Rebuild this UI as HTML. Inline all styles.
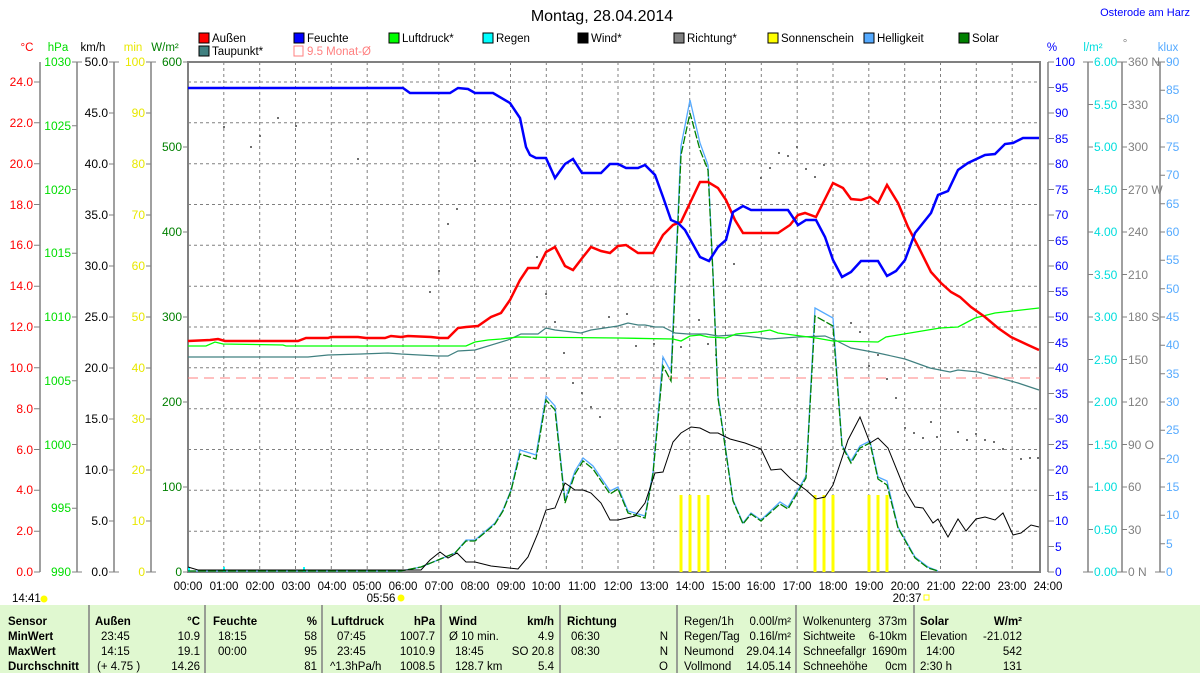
<!DOCTYPE html>
<html><head><meta charset="utf-8"><style>
html,body{margin:0;padding:0;background:#fff;}
svg{display:block;font-family:"Liberation Sans",Arial,sans-serif;}
</style></head><body>
<svg width="1200" height="673" viewBox="0 0 1200 673" xmlns="http://www.w3.org/2000/svg">
<rect width="1200" height="673" fill="#fff"/>
<text x="602" y="21" font-size="16" text-anchor="middle" fill="#000">Montag, 28.04.2014</text>
<text x="1190" y="16" font-size="11" text-anchor="end" fill="#0000ff">Osterode am Harz</text>

<!-- legend -->
<g font-size="11.5">
<rect x="199" y="33" width="10" height="10" fill="#ff0000" stroke="#000"/><text x="212" y="42">Außen</text>
<rect x="294" y="33" width="10" height="10" fill="#0000ff" stroke="#000"/><text x="307" y="42">Feuchte</text>
<rect x="389" y="33" width="10" height="10" fill="#00ff00" stroke="#000"/><text x="402" y="42">Luftdruck*</text>
<rect x="483" y="33" width="10" height="10" fill="#00ffff" stroke="#000"/><text x="496" y="42">Regen</text>
<rect x="578" y="33" width="10" height="10" fill="#000" stroke="#000"/><text x="591" y="42">Wind*</text>
<rect x="674" y="33" width="10" height="10" fill="#808080" stroke="#000"/><text x="687" y="42">Richtung*</text>
<rect x="768" y="33" width="10" height="10" fill="#ffff00" stroke="#000"/><text x="781" y="42">Sonnenschein</text>
<rect x="864" y="33" width="10" height="10" fill="#55aaff" stroke="#000"/><text x="877" y="42">Helligkeit</text>
<rect x="959" y="33" width="10" height="10" fill="#008000" stroke="#000"/><text x="972" y="42">Solar</text>
<rect x="199" y="46" width="10" height="10" fill="#408080" stroke="#000"/><text x="212" y="55">Taupunkt*</text>
<rect x="294" y="46" width="9" height="10" fill="none" stroke="#ff8080"/><text x="307" y="55" fill="#ff8080">9.5 Monat-Ø</text>
</g>

<!-- units -->
<g font-size="11.5">
<text x="27" y="51" text-anchor="middle" fill="#ff0000">°C</text>
<text x="58" y="51" text-anchor="middle" fill="#00dd00">hPa</text>
<text x="93" y="51" text-anchor="middle" fill="#000">km/h</text>
<text x="133" y="51" text-anchor="middle" fill="#e8e800">min</text>
<text x="165" y="51" text-anchor="middle" fill="#008000">W/m²</text>
<text x="1052" y="51" text-anchor="middle" fill="#0000ff">%</text>
<text x="1093" y="51" text-anchor="middle" fill="#00dddd">l/m²</text>
<text x="1125" y="47" text-anchor="middle" fill="#808080">°</text>
<text x="1168" y="51" text-anchor="middle" fill="#55aaff">klux</text>
</g>

<!-- grid -->
<g stroke="#808080" stroke-dasharray="3,3" stroke-width="1">
<line x1="188" y1="82" x2="1040" y2="82"/><line x1="188" y1="122.8" x2="1040" y2="122.8"/><line x1="188" y1="163.7" x2="1040" y2="163.7"/><line x1="188" y1="204.5" x2="1040" y2="204.5"/><line x1="188" y1="245.3" x2="1040" y2="245.3"/><line x1="188" y1="286.2" x2="1040" y2="286.2"/><line x1="188" y1="327" x2="1040" y2="327"/><line x1="188" y1="367.8" x2="1040" y2="367.8"/><line x1="188" y1="408.7" x2="1040" y2="408.7"/><line x1="188" y1="449.5" x2="1040" y2="449.5"/><line x1="188" y1="490.3" x2="1040" y2="490.3"/><line x1="188" y1="531.2" x2="1040" y2="531.2"/>
<line x1="223.8" y1="62" x2="223.8" y2="572"/><line x1="259.7" y1="62" x2="259.7" y2="572"/><line x1="295.5" y1="62" x2="295.5" y2="572"/><line x1="331.3" y1="62" x2="331.3" y2="572"/><line x1="367.2" y1="62" x2="367.2" y2="572"/><line x1="403" y1="62" x2="403" y2="572"/><line x1="438.8" y1="62" x2="438.8" y2="572"/><line x1="474.7" y1="62" x2="474.7" y2="572"/><line x1="510.5" y1="62" x2="510.5" y2="572"/><line x1="546.3" y1="62" x2="546.3" y2="572"/><line x1="582.2" y1="62" x2="582.2" y2="572"/><line x1="618" y1="62" x2="618" y2="572"/><line x1="653.8" y1="62" x2="653.8" y2="572"/><line x1="689.7" y1="62" x2="689.7" y2="572"/><line x1="725.5" y1="62" x2="725.5" y2="572"/><line x1="761.3" y1="62" x2="761.3" y2="572"/><line x1="797.2" y1="62" x2="797.2" y2="572"/><line x1="833" y1="62" x2="833" y2="572"/><line x1="868.8" y1="62" x2="868.8" y2="572"/><line x1="904.7" y1="62" x2="904.7" y2="572"/><line x1="940.5" y1="62" x2="940.5" y2="572"/><line x1="976.3" y1="62" x2="976.3" y2="572"/><line x1="1012.2" y1="62" x2="1012.2" y2="572"/>
</g>

<!-- frame -->
<rect x="188" y="62" width="852" height="510" fill="none" stroke="#808080" stroke-width="2"/>

<!-- 9.5 Monat avg -->
<line x1="188" y1="378" x2="1040" y2="378" stroke="#ff8080" stroke-dasharray="10,6"/>

<!-- yellow sunshine -->
<g stroke="#ffff00" stroke-width="3">
<line x1="681" y1="495" x2="681" y2="572"/><line x1="690" y1="495" x2="690" y2="572"/><line x1="699" y1="495" x2="699" y2="572"/><line x1="708" y1="495" x2="708" y2="572"/>
<line x1="815" y1="495" x2="815" y2="572"/><line x1="824" y1="495" x2="824" y2="572"/><line x1="833" y1="495" x2="833" y2="572"/>
<line x1="869" y1="495" x2="869" y2="572"/><line x1="878" y1="495" x2="878" y2="572"/><line x1="887" y1="495" x2="887" y2="572"/>
</g>

<!-- direction dots -->
<g fill="#707070">
<rect x="223" y="126" width="2" height="2"/><rect x="250" y="146" width="2" height="2"/><rect x="259" y="135" width="2" height="2"/><rect x="277" y="117" width="2" height="2"/><rect x="295" y="125" width="2" height="2"/><rect x="357" y="158" width="2" height="2"/><rect x="474" y="160" width="2" height="2"/><rect x="456" y="208" width="2" height="2"/><rect x="447" y="223" width="2" height="2"/><rect x="438" y="270" width="2" height="2"/><rect x="429" y="291" width="2" height="2"/><rect x="545" y="293" width="2" height="2"/><rect x="536" y="256" width="2" height="2"/><rect x="554" y="321" width="2" height="2"/><rect x="563" y="352" width="2" height="2"/><rect x="572" y="382" width="2" height="2"/><rect x="581" y="392" width="2" height="2"/><rect x="590" y="406" width="2" height="2"/><rect x="599" y="416" width="2" height="2"/><rect x="608" y="316" width="2" height="2"/>
<rect x="626" y="313" width="2" height="2"/><rect x="635" y="345" width="2" height="2"/><rect x="653" y="343" width="2" height="2"/><rect x="662" y="358" width="2" height="2"/><rect x="671" y="353" width="2" height="2"/><rect x="680" y="346" width="2" height="2"/><rect x="698" y="319" width="2" height="2"/><rect x="707" y="343" width="2" height="2"/><rect x="715" y="354" width="2" height="2"/><rect x="733" y="263" width="2" height="2"/><rect x="760" y="177" width="2" height="2"/><rect x="769" y="167" width="2" height="2"/><rect x="778" y="152" width="2" height="2"/><rect x="787" y="155" width="2" height="2"/><rect x="796" y="146" width="2" height="2"/><rect x="805" y="168" width="2" height="2"/><rect x="814" y="176" width="2" height="2"/><rect x="823" y="164" width="2" height="2"/><rect x="850" y="322" width="2" height="2"/><rect x="859" y="331" width="2" height="2"/><rect x="868" y="365" width="2" height="2"/><rect x="877" y="354" width="2" height="2"/><rect x="886" y="378" width="2" height="2"/><rect x="895" y="397" width="2" height="2"/><rect x="904" y="427" width="2" height="2"/><rect x="913" y="432" width="2" height="2"/><rect x="922" y="437" width="2" height="2"/><rect x="930" y="421" width="2" height="2"/><rect x="936" y="436" width="2" height="2"/><rect x="957" y="431" width="2" height="2"/><rect x="966" y="439" width="2" height="2"/><rect x="975" y="433" width="2" height="2"/><rect x="984" y="439" width="2" height="2"/><rect x="993" y="441" width="2" height="2"/><rect x="1002" y="448" width="2" height="2"/><rect x="1020" y="458" width="2" height="2"/><rect x="1029" y="457" width="2" height="2"/><rect x="1037" y="457" width="2" height="2"/>
</g>

<!-- rain ticks -->
<g stroke="#00ffff" stroke-width="2"><line x1="189" y1="567" x2="189" y2="572"/><line x1="224" y1="567" x2="224" y2="572"/><line x1="304" y1="567" x2="304" y2="572"/></g>

<!-- brightness -->
<polyline fill="none" stroke="#55aaff" stroke-width="1.3" points="188,571 401,571 421,567 438,560 455,553 466,540 475,540 495,523 503,510 511,490 520,450 536,455 546,396 555,406 565,500 575,471 583,458 593,466 610,491 618,487 628,511 645,516 653,472 663,357 671,372 681,146 690,100 700,143 708,165 713,273 718,396 733,500 743,523 751,513 761,520 780,502 788,507 806,476 815,308 833,318 842,445 851,461 860,446 870,441 878,477 887,481 898,527 915,557 928,567 938,571"/>
<!-- solar -->
<polyline fill="none" stroke="#008000" stroke-width="1.3" stroke-dasharray="8,2" points="188,571 401,571 421,567 438,560 455,553 466,541 475,541 495,524 503,511 511,491 520,454 536,459 546,400 555,410 565,503 575,474 583,461 593,469 610,494 618,489 628,513 645,518 653,474 663,366 671,381 681,155 690,113 700,150 708,170 713,275 718,398 733,501 743,524 751,514 761,521 780,504 788,509 806,478 815,316 833,326 842,446 851,463 860,448 870,443 878,479 887,485 898,528 915,558 928,568 938,571"/>
<!-- wind -->
<polyline fill="none" stroke="#000" stroke-width="1" points="188,567 198,570 281,570 421,570 430,560 440,552 448,558 457,553 466,562 475,562 491,566 518,569 528,557 538,533 546,510 555,508 565,483 575,490 583,490 591,493 601,503 610,520 618,520 635,516 645,503 655,473 663,472 673,442 681,433 691,427 700,428 710,433 718,433 730,439 745,443 761,449 771,470 781,469 791,479 806,490 816,499 825,497 833,485 848,440 860,417 870,443 878,438 888,448 905,490 915,507 923,508 933,523 938,519 948,537 958,519 966,531 976,519 985,517 995,520 1003,513 1013,535 1021,533 1031,525 1039,527"/>
<!-- dewpoint -->
<polyline fill="none" stroke="#408080" stroke-width="1.2" points="188,357 308,357 328,355 361,354 388,353 401,354 438,356 448,356 458,351 475,350 508,340 521,334 538,334 546,328 555,330 581,333 591,330 618,326 628,323 638,325 645,325 655,327 663,327 675,333 688,334 706,334 718,336 733,335 745,336 770,339 798,337 825,336 835,340 851,348 878,353 905,359 930,368 950,372 958,370 978,372 1000,378 1018,383 1039,390"/>
<!-- pressure -->
<polyline fill="none" stroke="#00ff00" stroke-width="1.3" points="188,346 206,346 215,342 223,344 283,345 286,346 466,346 475,342 488,340 501,339 518,337 618,338 673,339 681,341 690,336 700,335 708,337 726,338 736,334 758,332 770,330 778,333 816,338 833,341 878,342 886,337 940,328 958,327 975,318 995,313 1039,308"/>
<!-- temperature -->
<polyline fill="none" stroke="#ff0000" stroke-width="2.5" points="188,341 210,340 218,339 225,341 298,341 306,338 328,338 331,337 358,337 366,338 385,338 391,336 401,337 408,336 431,337 440,338 448,338 458,328 466,327 478,326 491,317 501,313 510,300 520,280 528,268 538,268 546,252 555,247 565,266 573,270 583,257 591,247 601,251 610,253 618,246 626,245 638,253 653,253 663,235 673,225 681,222 690,203 700,182 708,182 718,188 726,200 735,220 743,233 778,233 790,225 798,215 805,213 816,217 833,183 843,188 851,199 861,200 870,197 878,203 887,185 898,203 908,227 920,250 931,272 941,283 951,292 960,297 971,307 985,317 998,328 1011,337 1028,345 1039,350"/>
<!-- humidity -->
<polyline fill="none" stroke="#0000ff" stroke-width="2.5" points="188,88 403,88 410,93 450,93 458,88 468,89 475,93 493,93 510,103 520,118 526,147 530,155 536,158 546,158 555,178 565,164 573,159 582,173 601,173 610,164 618,164 626,168 638,168 645,165 655,175 663,197 671,220 678,223 685,230 700,257 709,261 718,247 726,240 733,212 743,206 751,210 788,210 798,225 806,220 816,220 825,237 833,260 842,277 851,272 861,261 878,261 887,276 896,271 905,260 915,233 931,213 938,195 948,191 958,170 968,163 985,155 995,154 1005,144 1013,143 1023,138 1039,138"/>

<!-- axes -->
<g stroke="#808080" stroke-width="1.5">
<line x1="40" y1="62" x2="40" y2="572"/><line x1="77" y1="62" x2="77" y2="572"/><line x1="114" y1="62" x2="114" y2="572"/><line x1="151" y1="62" x2="151" y2="572"/>
<line x1="1048" y1="62" x2="1048" y2="572"/><line x1="1088" y1="62" x2="1088" y2="572"/><line x1="1122" y1="62" x2="1122" y2="572"/><line x1="1160" y1="62" x2="1160" y2="572"/>
</g>
<g stroke="#808080" stroke-width="1">
<path d="M34 572h6M34 531.2h6M34 490.3h6M34 449.5h6M34 408.7h6M34 367.8h6M34 327h6M34 286.2h6M34 245.3h6M34 204.5h6M34 163.7h6M34 122.8h6M34 82h6"/>
<path d="M72 572h10M72 508.25h5M72 444.5h5M72 380.75h5M72 317h5M72 253.25h5M72 189.5h5M72 125.75h5M72 62h10"/>
<path d="M109 572h10M109 521h5M109 470h5M109 419h5M109 368h5M109 317h5M109 266h5M109 215h5M109 164h5M109 113h5M109 62h10"/>
<path d="M146 572h10M146 521h5M146 470h5M146 419h5M146 368h5M146 317h5M146 266h5M146 215h5M146 164h5M146 113h5M146 62h10"/>
<path d="M183 572h5M183 487h5M183 402h5M183 317h5M183 232h5M183 147h5M183 62h5"/>
<path d="M1048 572h6M1048 546.5h6M1048 521h6M1048 495.5h6M1048 470h6M1048 444.5h6M1048 419h6M1048 393.5h6M1048 368h6M1048 342.5h6M1048 317h6M1048 291.5h6M1048 266h6M1048 240.5h6M1048 215h6M1048 189.5h6M1048 164h6M1048 138.5h6M1048 113h6M1048 87.5h6M1048 62h6"/>
<path d="M1083 572h10M1088 529.5h5M1088 487h5M1088 444.5h5M1088 402h5M1088 359.5h5M1088 317h5M1088 274.5h5M1088 232h5M1088 189.5h5M1088 147h5M1088 104.5h5M1083 62h10"/>
<path d="M1117 572h10M1122 529.5h5M1122 487h5M1122 444.5h5M1122 402h5M1122 359.5h5M1122 317h5M1122 274.5h5M1122 232h5M1122 189.5h5M1122 147h5M1122 104.5h5M1117 62h10"/>
<path d="M1155 572h10M1160 543.7h5M1160 515.3h5M1160 487h5M1160 458.7h5M1160 430.3h5M1160 402h5M1160 373.7h5M1160 345.3h5M1160 317h5M1160 288.7h5M1160 260.3h5M1160 232h5M1160 203.7h5M1160 175.3h5M1160 147h5M1160 118.7h5M1160 90.3h5M1155 62h10"/>
</g>

<g font-size="12" text-anchor="end">
<g fill="#ff0000"><text x="33" y="576">0.0</text><text x="33" y="535">2.0</text><text x="33" y="494">4.0</text><text x="33" y="454">6.0</text><text x="33" y="413">8.0</text><text x="33" y="372">10.0</text><text x="33" y="331">12.0</text><text x="33" y="290">14.0</text><text x="33" y="249">16.0</text><text x="33" y="209">18.0</text><text x="33" y="168">20.0</text><text x="33" y="127">22.0</text><text x="33" y="86">24.0</text></g>
<g fill="#00dd00"><text x="71" y="576">990</text><text x="71" y="512">995</text><text x="71" y="449">1000</text><text x="71" y="385">1005</text><text x="71" y="321">1010</text><text x="71" y="257">1015</text><text x="71" y="194">1020</text><text x="71" y="130">1025</text><text x="71" y="66">1030</text></g>
<g fill="#000"><text x="108" y="576">0.0</text><text x="108" y="525">5.0</text><text x="108" y="474">10.0</text><text x="108" y="423">15.0</text><text x="108" y="372">20.0</text><text x="108" y="321">25.0</text><text x="108" y="270">30.0</text><text x="108" y="219">35.0</text><text x="108" y="168">40.0</text><text x="108" y="117">45.0</text><text x="108" y="66">50.0</text></g>
<g fill="#e8e800"><text x="145" y="576">0</text><text x="145" y="525">10</text><text x="145" y="474">20</text><text x="145" y="423">30</text><text x="145" y="372">40</text><text x="145" y="321">50</text><text x="145" y="270">60</text><text x="145" y="219">70</text><text x="145" y="168">80</text><text x="145" y="117">90</text><text x="145" y="66">100</text></g>
<g fill="#008000"><text x="182" y="576">0</text><text x="182" y="491">100</text><text x="182" y="406">200</text><text x="182" y="321">300</text><text x="182" y="236">400</text><text x="182" y="151">500</text><text x="182" y="66">600</text></g>
</g>
<g font-size="12">
<g fill="#0000ff"><text x="1055" y="576">0</text><text x="1055" y="551">5</text><text x="1055" y="525">10</text><text x="1055" y="500">15</text><text x="1055" y="474">20</text><text x="1055" y="449">25</text><text x="1055" y="423">30</text><text x="1055" y="398">35</text><text x="1055" y="372">40</text><text x="1055" y="347">45</text><text x="1055" y="321">50</text><text x="1055" y="296">55</text><text x="1055" y="270">60</text><text x="1055" y="245">65</text><text x="1055" y="219">70</text><text x="1055" y="194">75</text><text x="1055" y="168">80</text><text x="1055" y="143">85</text><text x="1055" y="117">90</text><text x="1055" y="92">95</text><text x="1055" y="66">100</text></g>
<g fill="#00dddd"><text x="1094" y="576">0.00</text><text x="1094" y="534">0.50</text><text x="1094" y="491">1.00</text><text x="1094" y="449">1.50</text><text x="1094" y="406">2.00</text><text x="1094" y="364">2.50</text><text x="1094" y="321">3.00</text><text x="1094" y="279">3.50</text><text x="1094" y="236">4.00</text><text x="1094" y="194">4.50</text><text x="1094" y="151">5.00</text><text x="1094" y="109">5.50</text><text x="1094" y="66">6.00</text></g>
<g fill="#808080"><text x="1128" y="576">0 N</text><text x="1128" y="534">30</text><text x="1128" y="491">60</text><text x="1128" y="449">90  O</text><text x="1128" y="406">120</text><text x="1128" y="364">150</text><text x="1128" y="321">180 S</text><text x="1128" y="279">210</text><text x="1128" y="236">240</text><text x="1128" y="194">270 W</text><text x="1128" y="151">300</text><text x="1128" y="109">330</text><text x="1128" y="66">360 N</text></g>
<g fill="#55aaff"><text x="1166" y="576">0</text><text x="1166" y="548">5</text><text x="1166" y="519">10</text><text x="1166" y="491">15</text><text x="1166" y="463">20</text><text x="1166" y="434">25</text><text x="1166" y="406">30</text><text x="1166" y="378">35</text><text x="1166" y="349">40</text><text x="1166" y="321">45</text><text x="1166" y="293">50</text><text x="1166" y="264">55</text><text x="1166" y="236">60</text><text x="1166" y="208">65</text><text x="1166" y="179">70</text><text x="1166" y="151">75</text><text x="1166" y="123">80</text><text x="1166" y="94">85</text><text x="1166" y="66">90</text></g>
</g>

<!-- time labels -->
<g font-size="11.5" text-anchor="middle" fill="#000">
<text x="188" y="590">00:00</text><text x="224" y="590">01:00</text><text x="260" y="590">02:00</text><text x="296" y="590">03:00</text><text x="332" y="590">04:00</text><text x="367" y="590">05:00</text><text x="403" y="590">06:00</text><text x="439" y="590">07:00</text><text x="475" y="590">08:00</text><text x="511" y="590">09:00</text><text x="546" y="590">10:00</text><text x="582" y="590">11:00</text><text x="618" y="590">12:00</text><text x="654" y="590">13:00</text><text x="690" y="590">14:00</text><text x="726" y="590">15:00</text><text x="761" y="590">16:00</text><text x="797" y="590">17:00</text><text x="833" y="590">18:00</text><text x="869" y="590">19:00</text><text x="905" y="590">20:00</text><text x="941" y="590">21:00</text><text x="976" y="590">22:00</text><text x="1012" y="590">23:00</text><text x="1048" y="590">24:00</text>
<text x="381" y="602">05:56</text><text x="907" y="602">20:37</text>
</g>
<text x="12" y="602" font-size="11.5">14:41</text>
<circle cx="44" cy="599" r="3.5" fill="#ffff00"/>
<circle cx="401" cy="598" r="3.5" fill="#ffff00"/>
<rect x="924" y="595" width="5" height="5" fill="none" stroke="#ffff00"/>

<!-- table -->
<rect x="0" y="605" width="1200" height="68" fill="#e0f8d0"/>
<g stroke="#808080" stroke-width="1.5">
<line x1="89" y1="605" x2="89" y2="673"/><line x1="205" y1="605" x2="205" y2="673"/><line x1="322" y1="605" x2="322" y2="673"/><line x1="441" y1="605" x2="441" y2="673"/><line x1="560" y1="605" x2="560" y2="673"/><line x1="677" y1="605" x2="677" y2="673"/><line x1="796" y1="605" x2="796" y2="673"/><line x1="914" y1="605" x2="914" y2="673"/>
</g>
<g font-size="11.5" fill="#000">
<g font-weight="bold"><text x="8" y="625">Sensor</text><text x="8" y="640">MinWert</text><text x="8" y="655">MaxWert</text><text x="8" y="670">Durchschnitt</text>
<text x="95" y="625">Außen</text><text x="200" y="625" text-anchor="end">°C</text>
<text x="213" y="625">Feuchte</text><text x="317" y="625" text-anchor="end">%</text>
<text x="331" y="625">Luftdruck</text><text x="435" y="625" text-anchor="end">hPa</text>
<text x="449" y="625">Wind</text><text x="554" y="625" text-anchor="end">km/h</text>
<text x="567" y="625">Richtung</text>
<text x="920" y="625">Solar</text><text x="1022" y="625" text-anchor="end">W/m²</text></g>
<text x="101" y="640">23:45</text><text x="200" y="640" text-anchor="end">10.9</text>
<text x="101" y="655">14:15</text><text x="200" y="655" text-anchor="end">19.1</text>
<text x="97" y="670">(+ 4.75 )</text><text x="200" y="670" text-anchor="end">14.26</text>
<text x="218" y="640">18:15</text><text x="317" y="640" text-anchor="end">58</text>
<text x="218" y="655">00:00</text><text x="317" y="655" text-anchor="end">95</text>
<text x="317" y="670" text-anchor="end">81</text>
<text x="337" y="640">07:45</text><text x="435" y="640" text-anchor="end">1007.7</text>
<text x="337" y="655">23:45</text><text x="435" y="655" text-anchor="end">1010.9</text>
<text x="330" y="670">^1.3hPa/h</text><text x="435" y="670" text-anchor="end">1008.5</text>
<text x="449" y="640">Ø 10 min.</text><text x="554" y="640" text-anchor="end">4.9</text>
<text x="455" y="655">18:45</text><text x="554" y="655" text-anchor="end">SO 20.8</text>
<text x="455" y="670">128.7 km</text><text x="554" y="670" text-anchor="end">5.4</text>
<text x="571" y="640">06:30</text><text x="668" y="640" text-anchor="end">N</text>
<text x="571" y="655">08:30</text><text x="668" y="655" text-anchor="end">N</text>
<text x="668" y="670" text-anchor="end">O</text>
<text x="684" y="625">Regen/1h</text><text x="791" y="625" text-anchor="end">0.00l/m²</text>
<text x="684" y="640">Regen/Tag</text><text x="791" y="640" text-anchor="end">0.16l/m²</text>
<text x="684" y="655">Neumond</text><text x="791" y="655" text-anchor="end">29.04.14</text>
<text x="684" y="670">Vollmond</text><text x="791" y="670" text-anchor="end">14.05.14</text>
<text x="803" y="625" textLength="68" lengthAdjust="spacingAndGlyphs">Wolkenunterg</text><text x="907" y="625" text-anchor="end">373m</text>
<text x="803" y="640">Sichtweite</text><text x="907" y="640" text-anchor="end">6-10km</text>
<text x="803" y="655" textLength="63" lengthAdjust="spacingAndGlyphs">Schneefallgr</text><text x="907" y="655" text-anchor="end">1690m</text>
<text x="803" y="670">Schneehöhe</text><text x="907" y="670" text-anchor="end">0cm</text>
<text x="920" y="640">Elevation</text><text x="1022" y="640" text-anchor="end">-21.012</text>
<text x="926" y="655">14:00</text><text x="1022" y="655" text-anchor="end">542</text>
<text x="920" y="670">2:30 h</text><text x="1022" y="670" text-anchor="end">131</text>
</g>
</svg>
</body></html>
